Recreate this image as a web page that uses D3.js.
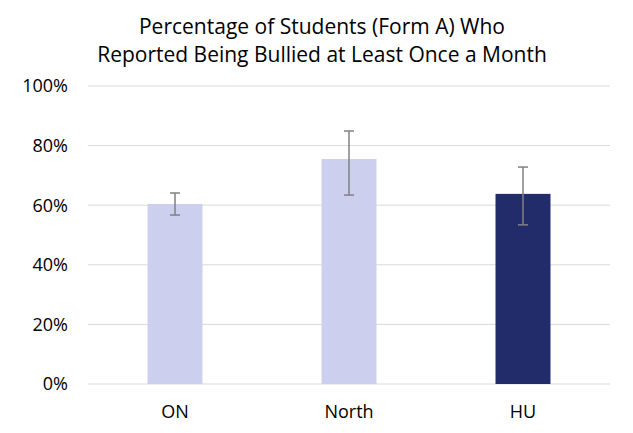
<!DOCTYPE html>
<html>
<head>
<meta charset="utf-8">
<script src="https://cdn.jsdelivr.net/npm/d3@7"></script>
<style>body{margin:0;background:#fff;}</style>
</head>
<body>
<div id="chart"></div>
<script>
const categories = ["ON", "North", "HU"];
const values = [0.604, 0.755, 0.638];
const errLow = [0.567, 0.634, 0.534];
const errHigh = [0.641, 0.849, 0.728];
const barColors = ["#cccfee", "#cccfee", "#232c6b"];
const yTicks = [0, 0.2, 0.4, 0.6, 0.8, 1.0];

const width = 633, height = 433;
const margin = { top: 86, right: 23, bottom: 49, left: 88 };

const svg = d3.select("#chart").append("svg")
  .attr("width", width).attr("height", height)
  .style("font-family", "'Open Sans', sans-serif");

const x = d3.scaleBand().domain(categories)
  .range([margin.left, width - margin.right]).paddingInner(0.684).paddingOuter(0.342);
const y = d3.scaleLinear().domain([0, 1]).range([height - margin.bottom, margin.top]);

// Gridlines
svg.append("g").selectAll("line").data(yTicks).join("line")
  .attr("x1", margin.left).attr("x2", width - margin.right)
  .attr("y1", d => y(d)).attr("y2", d => y(d))
  .attr("stroke", "#d9d9d9").attr("stroke-width", 1);

// Y labels
svg.append("g").selectAll("text").data(yTicks).join("text")
  .attr("x", 68).attr("y", d => y(d)).attr("dy", "0.35em")
  .attr("text-anchor", "end").attr("font-size", 18).attr("fill", "#000")
  .text(d3.format(".0%"));

// Bars
svg.append("g").selectAll("rect").data(categories).join("rect")
  .attr("x", d => x(d)).attr("width", x.bandwidth())
  .attr("y", (d, i) => y(values[i]))
  .attr("height", (d, i) => y(0) - y(values[i]))
  .attr("fill", (d, i) => barColors[i]);

// Error bars
const eb = svg.append("g").attr("stroke", "#808080").attr("stroke-width", 1.5);
categories.forEach((c, i) => {
  const cx = x(c) + x.bandwidth() / 2;
  eb.append("line").attr("x1", cx).attr("x2", cx).attr("y1", y(errLow[i])).attr("y2", y(errHigh[i]));
  [errLow[i], errHigh[i]].forEach(v =>
    eb.append("line").attr("x1", cx - 5).attr("x2", cx + 5).attr("y1", y(v)).attr("y2", y(v)));
});

// X labels
svg.append("g").selectAll("text").data(categories).join("text")
  .attr("x", d => x(d) + x.bandwidth() / 2).attr("y", 418)
  .attr("text-anchor", "middle").attr("font-size", 18).attr("fill", "#000")
  .text(d => d);

// Title
svg.append("g").selectAll("text")
  .data(["Percentage of Students (Form A) Who", "Reported Being Bullied at Least Once a Month"])
  .join("text")
  .attr("x", 322).attr("y", (d, i) => 34 + i * 28)
  .attr("text-anchor", "middle").attr("font-size", 21).attr("fill", "#000")
  .text(d => d);
</script>
</body>
</html>
